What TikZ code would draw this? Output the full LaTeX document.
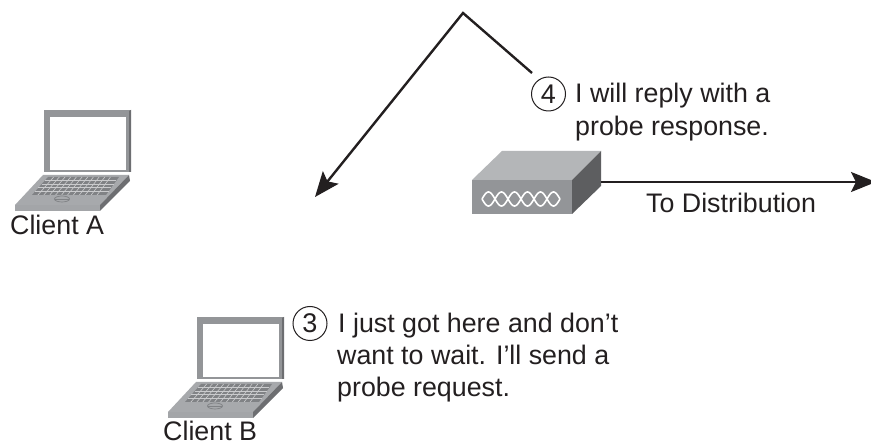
\documentclass[tikz,border=0pt]{standalone}
\usepackage{fontspec}
\setmainfont{Liberation Sans}
\usetikzlibrary{arrows.meta}
\definecolor{lidgray}{HTML}{939598}
\definecolor{basegray}{HTML}{A7A9AC}
\definecolor{basedark}{HTML}{6D6E71}
\definecolor{keygray}{HTML}{808285}
\definecolor{inkc}{HTML}{231F20}
\tikzset{
  x=1pt,y=-1pt,
  lbl/.style={inner sep=0pt,anchor=base west,text=inkc,font=\fontsize{26.8}{30}\selectfont},
  num/.style={circle,draw=inkc,line width=1pt,minimum size=34pt,inner sep=0pt,text=inkc,font=\fontsize{27}{30}\selectfont},
  link/.style={draw=inkc,line width=2.4pt},
  tip/.style={-{Stealth[length=25pt,width=20pt,inset=5pt]}},
  pics/laptop/.style={code={
    \fill[basegray] (15,205)--(43,175)--(129,175)--(100,205)--cycle;
    \fill[basedark] (100,205)--(129,175)--(130,181)--(100,211)--cycle;
    \fill[lidgray!85] (15,205) rectangle (100,211);
    \fill[keygray] (48,177)--(119,177)--(106,195)--(32,195)--cycle;
    \foreach \t in {0.2,0.4,0.6,0.8}
      \draw[basegray!60,line width=.7pt] (48-16*\t,177+18*\t)--(119-13*\t,177+18*\t);
    \foreach \t in {0.08,0.16,...,0.95}
      \draw[basegray!60,line width=.6pt] (48+71*\t,177)--(32+74*\t,195);
    \draw[keygray,fill=basegray,line width=.7pt] (62,199) ellipse (7.5 and 3);
    \draw[keygray,line width=.6pt] (55,199)--(69,199);
    \fill[lidgray] (44,110) rectangle (131,172);
    \fill[basedark] (129,111)--(131,110)--(131,172)--(129,172)--cycle;
    \fill[white] (49.5,117) rectangle (126,170);
  }}
}
\begin{document}
\begin{tikzpicture}
\useasboundingbox (0,0) rectangle (871,446);
\fill[white] (0,0) rectangle (871,446);
% access point
\fill[basegray!85] (472,180)--(502,151)--(601,151)--(572,180)--cycle;
\fill[lidgray] (472,180) rectangle (572,214);
\fill[basedark!85!black] (572,180)--(601,151)--(601,186)--(572,214)--cycle;
\draw[white,line width=1.6pt,smooth] plot[domain=0:78,samples=90] ({482+\x},{199+7*sin(\x*180/13)});
\draw[white,line width=1.6pt,smooth] plot[domain=0:78,samples=90] ({482+\x},{199-7*sin(\x*180/13)});
% laptops
\pic at (0,0) {laptop};
\pic at (153,207) {laptop};
% anchors
\coordinate (lead) at (532,73);
\coordinate (apex) at (463,13);
\coordinate (reach) at (315,197);
\coordinate (apside) at (601,182);
\coordinate (dist) at (876,182);
% labels
\node[num] (n4) at (548.5,94) {4};
\node[num] (n3) at (310,323.5) {3};
\node[lbl] (r1) at (575,103) {I will reply with a};
\node[lbl] (r2) at (575,136) {probe response.};
\node[lbl] (todist) at (646,213) {To Distribution};
\node[lbl] (ca) at (10,235) {Client A};
\node[lbl] (cb) at (163,441) {Client B};
\node[lbl] (q1) at (338,333) {I just got here and don't};
\node[lbl] (q2) at (337,365) {want to wait. I'll send a};
\node[lbl] (q3) at (337,397) {probe request.};
% connectors
\draw[link,tip] (lead) -- (apex) -- (reach);
\draw[link,tip] (apside) -- (dist);
\end{tikzpicture}
\end{document}
